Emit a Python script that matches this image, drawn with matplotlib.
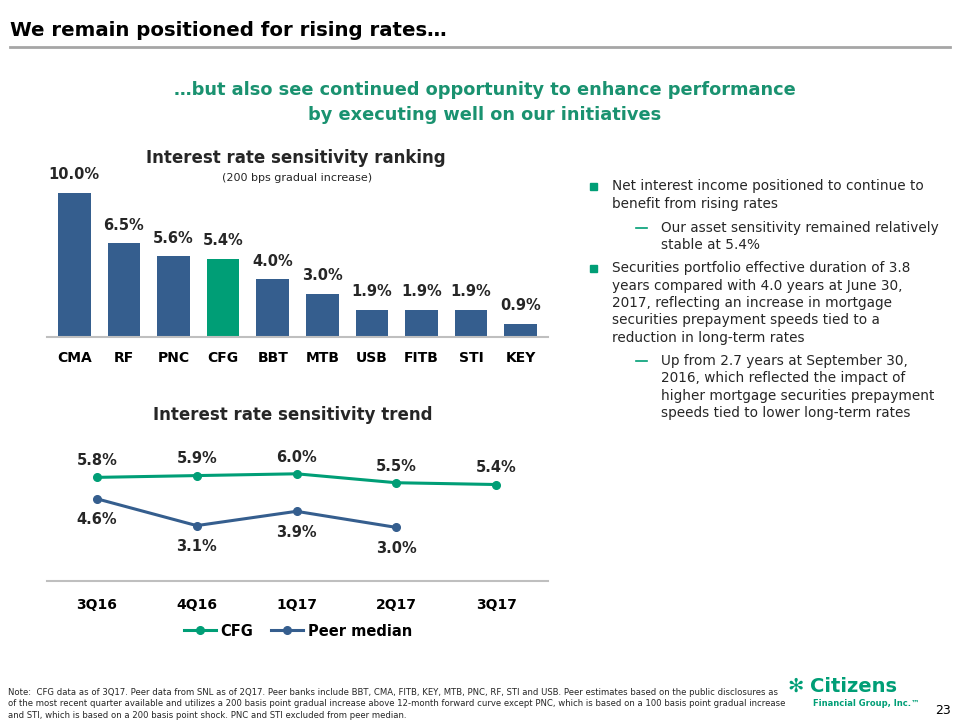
import matplotlib
matplotlib.use('Agg')
import matplotlib.pyplot as plt
from matplotlib.patches import Rectangle
from matplotlib.lines import Line2D

# Data
banks = ['CMA', 'RF', 'PNC', 'CFG', 'BBT', 'MTB', 'USB', 'FITB', 'STI', 'KEY']
sensitivity = [10.0, 6.5, 5.6, 5.4, 4.0, 3.0, 1.9, 1.9, 1.9, 0.9]
quarters = ['3Q16', '4Q16', '1Q17', '2Q17', '3Q17']
cfg_trend = [5.8, 5.9, 6.0, 5.5, 5.4]
peer_trend = [4.6, 3.1, 3.9, 3.0]

BLUE = '#355E8E'
GREEN = '#009E76'
TXT_GREEN = '#1A9270'
GRAY = '#BFBFBF'
DARK = '#262626'

plt.rcParams['font.family'] = ['DejaVu Sans']

W, H = 960, 720
fig = plt.figure(figsize=(9.6, 7.2), dpi=100)


def fx(px):
    return px / W


def fy(py):
    return 1 - py / H


# Header
fig.text(fx(10), fy(31), 'We remain positioned for rising rates…', fontsize=14.2,
         fontweight='bold', color='black', va='center', ha='left')
fig.add_artist(Line2D([fx(10), fx(950)], [fy(47), fy(47)], color='#A6A6A6', lw=2))
fig.text(fx(485), fy(90), '…but also see continued opportunity to enhance performance',
         fontsize=12.8, fontweight='bold', color=TXT_GREEN, ha='center', va='center')
fig.text(fx(485), fy(115), 'by executing well on our initiatives',
         fontsize=12.8, fontweight='bold', color=TXT_GREEN, ha='center', va='center')

# Bar chart: ranking
ax1 = fig.add_axes([fx(47), fy(337), fx(501), 166 / H])
colors = [GREEN if b == 'CFG' else BLUE for b in banks]
x = range(len(banks))
ax1.bar(x, sensitivity, width=0.66, color=colors)
for i, v in enumerate(sensitivity):
    ax1.annotate(f'{v:.1f}%', (i, v), xytext=(0, 13), textcoords='offset points',
                 ha='center', va='center', fontsize=10.5, fontweight='bold', color=DARK)
ax1.set_xlim(-0.55, 9.55)
ax1.set_ylim(0, 11.5)
ax1.set_xticks(list(x))
ax1.set_xticklabels(banks, fontsize=10, fontweight='bold', color='black')
ax1.tick_params(axis='x', length=0, pad=10)
ax1.set_yticks([])
for s in ['top', 'left', 'right']:
    ax1.spines[s].set_visible(False)
ax1.spines['bottom'].set_color(GRAY)
ax1.spines['bottom'].set_linewidth(1.5)
ax1.patch.set_alpha(0)

fig.text(fx(296), fy(158), 'Interest rate sensitivity ranking', fontsize=12,
         fontweight='bold', color=DARK, ha='center', va='center')
fig.text(fx(297), fy(178), '(200 bps gradual increase)', fontsize=8,
         color=DARK, ha='center', va='center')

# Line chart: trend
ax2 = fig.add_axes([fx(47), fy(581), fx(501), 134 / H])
ax2.plot(range(len(cfg_trend)), cfg_trend, color=GREEN, lw=2.2, marker='o',
         markersize=5.5, label='CFG')
ax2.plot(range(len(peer_trend)), peer_trend, color=BLUE, lw=2.2, marker='o',
         markersize=5.5, label='Peer median')
for i, v in enumerate(cfg_trend):
    ax2.annotate(f'{v:.1f}%', (i, v), xytext=(0, 12), textcoords='offset points',
                 ha='center', va='center', fontsize=10.5, fontweight='bold', color=DARK)
for i, v in enumerate(peer_trend):
    ax2.annotate(f'{v:.1f}%', (i, v), xytext=(0, -15), textcoords='offset points',
                 ha='center', va='center', fontsize=10.5, fontweight='bold', color=DARK)
ax2.set_xlim(-0.5, 4.52)
ax2.set_ylim(0, 7.5)
ax2.set_xticks(range(len(quarters)))
ax2.set_xticklabels(quarters, fontsize=10, fontweight='bold', color='black')
ax2.tick_params(axis='x', length=0, pad=12)
ax2.set_yticks([])
for s in ['top', 'left', 'right']:
    ax2.spines[s].set_visible(False)
ax2.spines['bottom'].set_color(GRAY)
ax2.spines['bottom'].set_linewidth(1.5)
ax2.patch.set_alpha(0)
fig.legend(loc='center', bbox_to_anchor=(fx(298), fy(631)), ncol=2, frameon=False,
           prop={'size': 10.5, 'weight': 'bold'}, handlelength=2.2, handletextpad=0.3,
           columnspacing=1.2)

fig.text(fx(293), fy(415), 'Interest rate sensitivity trend', fontsize=12,
         fontweight='bold', color=DARK, ha='center', va='center')

# Bullets on the right
bullets = [
    ('sq', 0, 'Net interest income positioned to continue to'),
    (None, 0, 'benefit from rising rates'),
    ('dash', 1, 'Our asset sensitivity remained relatively'),
    (None, 1, 'stable at 5.4%'),
    ('sq', 0, 'Securities portfolio effective duration of 3.8'),
    (None, 0, 'years compared with 4.0 years at June 30,'),
    (None, 0, '2017, reflecting an increase in mortgage'),
    (None, 0, 'securities prepayment speeds tied to a'),
    (None, 0, 'reduction in long-term rates'),
    ('dash', 1, 'Up from 2.7 years at September 30,'),
    (None, 1, '2016, which reflected the impact of'),
    (None, 1, 'higher mortgage securities prepayment'),
    (None, 1, 'speeds tied to lower long-term rates'),
]
line_y = [186, 204, 228, 245, 268, 286, 303, 320, 338, 361, 378, 396, 413]
for (mark, lvl, txt), yy in zip(bullets, line_y):
    tx = 612 if lvl == 0 else 661
    fig.text(fx(tx), fy(yy), txt, fontsize=9.8, color=DARK, ha='left', va='center')
    if mark == 'sq':
        fig.add_artist(Rectangle((fx(590), fy(yy + 4)), fx(7), 7 / H, color=GREEN))
    elif mark == 'dash':
        fig.add_artist(Line2D([fx(636), fx(647)], [fy(yy), fy(yy)], color=GREEN, lw=1.2))

# Footnote
note = ('Note:  CFG data as of 3Q17. Peer data from SNL as of 2Q17. Peer banks include BBT, CMA, FITB, KEY, MTB, PNC, RF, STI and USB. Peer estimates based on the public disclosures as\n'
        'of the most recent quarter available and utilizes a 200 basis point gradual increase above 12-month forward curve except PNC, which is based on a 100 basis point gradual increase\n'
        'and STI, which is based on a 200 basis point shock. PNC and STI excluded from peer median.')
fig.text(fx(8), fy(704), note, fontsize=6.1, color=DARK, ha='left', va='center',
         linespacing=1.3)

# Logo and page number
fig.text(fx(787), fy(686), '✻', fontsize=14, fontweight='bold', color=GREEN,
         ha='left', va='center')
fig.text(fx(810), fy(686), 'Citizens', fontsize=14, fontweight='bold', color=GREEN,
         ha='left', va='center')
fig.text(fx(813), fy(704), 'Financial Group, Inc.™', fontsize=6, fontweight='bold',
         color=GREEN, ha='left', va='center')
fig.text(fx(943), fy(710), '23', fontsize=9, color='black', ha='center', va='center')

fig.savefig('out.png', dpi=100)
